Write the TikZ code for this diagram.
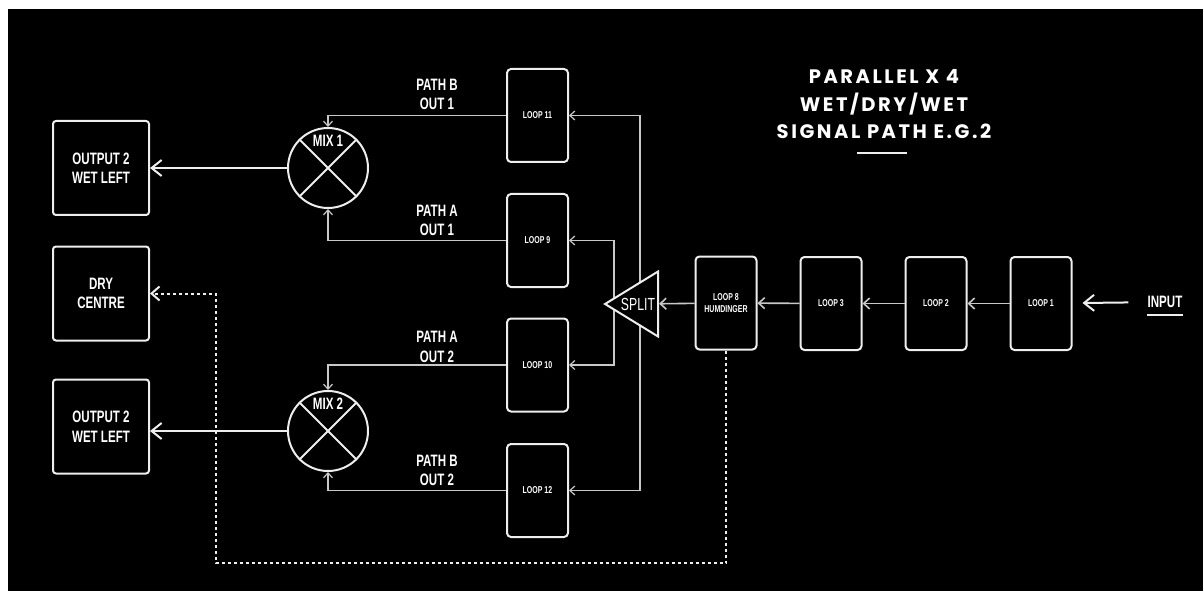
\documentclass[tikz,border=0pt]{standalone}
\usepackage{fontspec}
\newfontfamily\condfont[FakeStretch=0.7]{Liberation Sans}
\newfontfamily\titlefont[LetterSpace=13]{Poppins}
\definecolor{wire}{RGB}{200,200,200}
\definecolor{edge}{RGB}{238,238,238}
\usetikzlibrary{arrows.meta,positioning,shapes.geometric}

\begin{document}
\begin{tikzpicture}[x=1pt,y=-1pt,
  every node/.style={text=white,font=\condfont\bfseries\fontsize{16.5}{19.5}\selectfont},
  outbox/.style={draw=edge,line width=2pt,rounded corners=3pt,align=center,
        minimum width=96pt,minimum height=94pt},
  loopbox/.style={draw=edge,line width=2pt,rounded corners=4pt,align=center,
        minimum width=61pt,minimum height=93pt,
        font=\condfont\bfseries\fontsize{10}{12.5}\selectfont},
  mixer/.style={draw=edge,circle,line width=2pt,minimum size=80pt,inner sep=0pt},
  pathlbl/.style={align=center},
  feed/.style={draw=wire,line width=1.2pt,-{Straight Barb[length=5pt,width=9pt]}},
  chainarr/.style={draw=wire,line width=1.6pt,-{Straight Barb[length=6pt,width=11pt]}},
  mainarr/.style={draw=edge,line width=2pt,-{Straight Barb[length=10pt,width=16pt]}},
  dryline/.style={draw=edge,line width=2pt,dash pattern=on 3pt off 3pt,
        -{Straight Barb[length=8pt,width=14pt]}}]
  %% canvas
  \fill[white] (0,0) rectangle (1203,591);
  \fill[black] (8,9) rectangle (1203,591);
  \useasboundingbox (0,0) rectangle (1203,591);

  %% outputs
  \node[outbox] (out1) at (101,168) {OUTPUT 2\\WET LEFT};
  \node[outbox] (dry)  at (101,293.5) {DRY\\CENTRE};
  \node[outbox] (out2) at (101,426.5) {OUTPUT 2\\WET LEFT};

  %% mixers
  \node[mixer] (mix1) at (328,168) {};
  \node[mixer] (mix2) at (328,431) {};
  \draw[edge,line width=2pt] (mix1.45) -- (mix1.225) (mix1.135) -- (mix1.-45);
  \draw[edge,line width=2pt] (mix2.45) -- (mix2.225) (mix2.135) -- (mix2.-45);
  \node (mixlbl1) at (328,141) {MIX 1};
  \node (mixlbl2) at (328,404) {MIX 2};

  %% parallel loops
  \node[loopbox] (loop11) at (537.5,115.5) {LOOP 11};
  \node[loopbox] (loop9)  at (537.5,240.5) {LOOP 9};
  \node[loopbox] (loop10) at (537.5,365)   {LOOP 10};
  \node[loopbox] (loop12) at (537.5,490.5) {LOOP 12};

  \node[pathlbl] (pb1) at (437,94.5)  {PATH B\\OUT 1};
  \node[pathlbl] (pa1) at (437,220.5) {PATH A\\OUT 1};
  \node[pathlbl] (pa2) at (437,347)   {PATH A\\OUT 2};
  \node[pathlbl] (pb2) at (437,470.5) {PATH B\\OUT 2};

  \draw[feed] (loop11.west) -| (mix1.north);
  \draw[feed] (loop9.west)  -| (mix1.south);
  \draw[feed] (loop10.west) -| (mix2.north);
  \draw[feed] (loop12.west) -| (mix2.south);

  \draw[mainarr] (mix1) -- (out1);
  \draw[mainarr] (mix2.west) -- (out2.east |- mix2.west);

  %% split feeds
  \coordinate (tapA) at (614,303);
  \coordinate (tapB) at (640,303);
  \draw[feed] (tapB) |- (loop11.east);
  \draw[feed] (tapB) |- (loop12.east);
  \draw[feed] (tapA) |- (loop9.east);
  \draw[feed] (tapA) |- (loop10.east);

  \node[draw=edge,fill=black,line width=2pt,isosceles triangle,
        isosceles triangle stretches,shape border rotate=180,inner sep=0pt,
        minimum width=65pt,minimum height=53pt,
        font=\condfont\fontsize{17.5}{17.5}\selectfont] (split) at (638,304) {SPLIT};

  %% serial chain
  \node[loopbox] (loop8) at (726,303) {LOOP 8\\HUMDINGER};
  \node[loopbox] (loop3) at (831,303.5) {LOOP 3};
  \node[loopbox] (loop2) at (936,303.5) {LOOP 2};
  \node[loopbox] (loop1) at (1041,303.5) {LOOP 1};
  \node[inner sep=0pt] (input) at (1165,302) {INPUT};
  \draw[edge,line width=1.8pt] ([yshift=-7pt]input.south west) -- ([yshift=-7pt]input.south east);

  \draw[chainarr] (loop8) -- (split);
  \draw[chainarr] (loop3) -- (loop8);
  \draw[chainarr] (loop2) -- (loop3);
  \draw[chainarr] (loop1) -- (loop2);
  \draw[mainarr,shorten <=19pt,shorten >=10pt] (input) -- (loop1);

  %% dry send
  \coordinate (dryturn) at (216,563);
  \draw[dryline] (loop8.south) |- (dryturn) |- (dry.east);

  %% title
  \node[align=center,font=\titlefont\bfseries\fontsize{19.5}{27.5}\selectfont] (title) at (884,104.5)
        {PARALLEL X 4\\WET/DRY/WET\\SIGNAL PATH E.G.2};
  \draw[edge,line width=1.8pt] (857,153) -- (907,153);
\end{tikzpicture}
\end{document}
